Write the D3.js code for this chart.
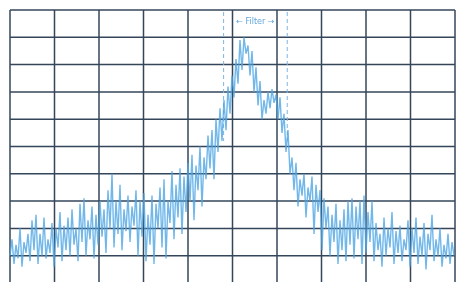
<!DOCTYPE html>
<html lang="en">
<head>
  <meta charset="UTF-8"/>
  <title>Spectrum trace</title>
  <script src="https://d3js.org/d3.v7.min.js"></script>
  <style>
    body { margin: 0; background: #fff; }
    svg { display: block; filter: blur(0.5px); }
  </style>
</head>
<body>
<svg width="459" height="282"></svg>
<script>
  // reference level divisions (dB), 10 dB per division
  const levelTicks = [0, -10, -20, -30, -40, -50, -60, -70, -80, -90, -100];
  // frequency divisions
  const freqDivs = [0, 1, 2, 3, 4, 5, 6, 7, 8, 9, 10];

  // trace samples in dB (one sample every ~2px)
  const level = [
    -90,-84,-93,-86,-91,-80,-94,-85,-89,-82,
    -92,-77,-88,-75,-93,-82,-90,-76,-91,-84,
    -89,-78,-94,-80,-87,-74,-92,-79,-88,-76,
    -90,-73,-86,-80,-92,-71,-85,-69,-90,-77,
    -84,-72,-91,-75,-86,-70,-83,-73,-89,-66,
    -80,-60,-87,-70,-82,-64,-88,-73,-81,-68,
    -85,-72,-79,-66,-90,-70,-83,-67,-92,-75,
    -86,-68,-93,-71,-80,-65,-87,-62,-91,-70,
    -78,-59,-84,-64,-76,-58,-82,-61,-74,-56,
    -70,-53,-77,-57,-66,-50,-72,-54,-62,-46,
    -58,-44,-62,-40,-52,-36,-48,-33,-44,-28,
    -38,-24,-32,-18,-27,-11,-22,-10,-16,-13,
    -24,-15,-30,-21,-35,-26,-40,-33,-38,-30,
    -36,-29,-34,-31,-40,-32,-45,-38,-52,-44,
    -60,-54,-66,-56,-72,-62,-68,-60,-76,-65,
    -70,-61,-82,-64,-74,-66,-88,-69,-80,-72,
    -90,-75,-85,-71,-93,-77,-88,-73,-92,-70,
    -86,-69,-91,-72,-84,-70,-93,-68,-89,-74,
    -85,-70,-92,-78,-88,-82,-94,-76,-90,-80,
    -87,-74,-93,-81,-89,-79,-92,-84,-88,-77,
    -94,-80,-89,-76,-93,-83,-90,-78,-95,-82,
    -88,-75,-92,-84,-90,-80,-94,-86,-91,-82,
    -93,-85,-90
  ];

  // filter passband edges, in divisions
  const filterEdges = [4.8, 6.23];
  const filterLabel = '\u2190 Filter \u2192';

  const svg = d3.select('svg');
  const plotL = 10, plotT = 10, plotR = 455, plotB = 283;

  const xDiv = d3.scaleLinear().domain([0, 10]).range([plotL, plotR]);
  const xIdx = d3.scaleLinear().domain([0, level.length - 1]).range([plotL, plotL + 2 * (level.length - 1)]);
  const y = d3.scaleLinear().domain([0, -100]).range([plotT, plotB]);

  // grid
  const grid = svg.append('g')
    .attr('stroke', '#34465a')
    .attr('stroke-width', 1.5);

  grid.selectAll('.v')
    .data(freqDivs)
    .enter()
    .append('line')
    .attr('x1', d => xDiv(d))
    .attr('x2', d => xDiv(d))
    .attr('y1', plotT)
    .attr('y2', plotB);

  grid.selectAll('.h')
    .data(levelTicks)
    .enter()
    .append('line')
    .attr('x1', plotL)
    .attr('x2', plotR)
    .attr('y1', d => y(d))
    .attr('y2', d => y(d));

  // filter markers
  svg.selectAll('.edge')
    .data(filterEdges)
    .enter()
    .append('line')
    .attr('x1', d => xDiv(d))
    .attr('x2', d => xDiv(d))
    .attr('y1', plotT + 2)
    .attr('y2', y(-48))
    .attr('stroke', '#7db6e4')
    .attr('stroke-width', 1)
    .attr('stroke-dasharray', '4,3');

  svg.append('text')
    .attr('x', (xDiv(filterEdges[0]) + xDiv(filterEdges[1])) / 2)
    .attr('y', y(-5))
    .attr('text-anchor', 'middle')
    .attr('font-family', 'DejaVu Sans, sans-serif')
    .attr('font-size', 8)
    .attr('fill', '#5fa6dc')
    .text(filterLabel);

  // trace
  const line = d3.line()
    .x((d, i) => xIdx(i))
    .y(d => y(d));

  svg.append('path')
    .datum(level)
    .attr('d', line)
    .attr('fill', 'none')
    .attr('stroke', '#4ea5e4')
    .attr('stroke-width', 1.4)
    .attr('stroke-opacity', 0.8);
</script>
</body>
</html>
